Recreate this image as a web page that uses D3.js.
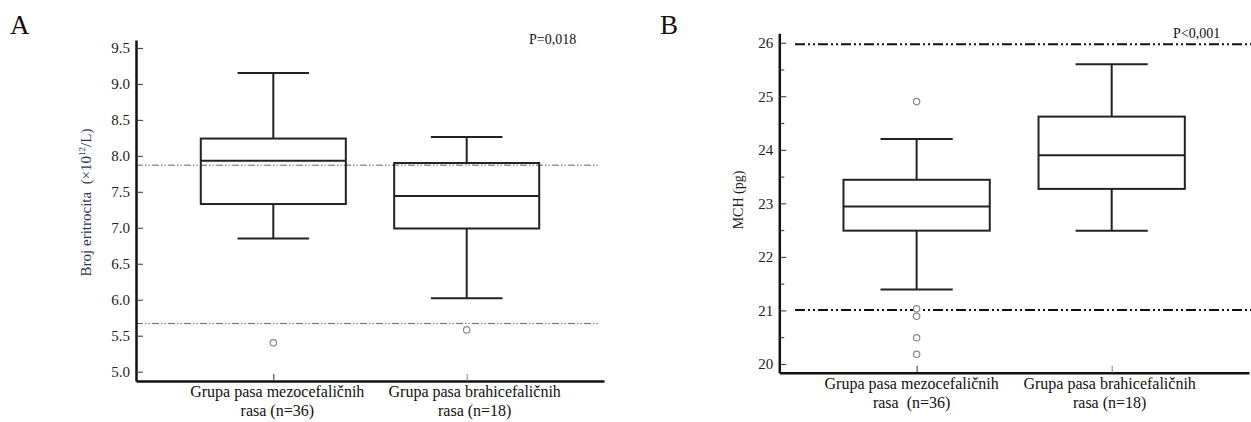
<!DOCTYPE html>
<html>
<head>
<meta charset="utf-8">
<script src="https://cdn.jsdelivr.net/npm/d3@7"></script>
<style>
  body { margin: 0; background: #fff; }
  svg, svg text { font-family: "Liberation Serif", "Times New Roman", serif; }
  text { white-space: pre; }
</style>
</head>
<body>
<script>
// Data

const categoriesA = ['Grupa pasa mezocefaličnih\nrasa (n=36)', 'Grupa pasa brahicefaličnih\nrasa (n=18)'];
const minA = [6.85, 6.02];
const q1A = [7.33, 6.99];
const medianA = [7.93, 7.44];
const q3A = [8.24, 7.9];
const maxA = [9.15, 8.26];
const outliersA = [[5.4], [5.58]];
const refLinesA = [7.87, 5.67];
const ticksA = [5.0, 5.5, 6.0, 6.5, 7.0, 7.5, 8.0, 8.5, 9.0, 9.5];

const categoriesB = ['Grupa pasa mezocefaličnih\nrasa  (n=36)', 'Grupa pasa brahicefaličnih\nrasa (n=18)'];
const minB = [21.39, 22.49];
const q1B = [22.49, 23.27];
const medianB = [22.94, 23.9];
const q3B = [23.44, 24.62];
const maxB = [24.2, 25.6];
const outliersB = [[24.9, 21.03, 20.89, 20.49, 20.18], []];
const refLinesB = [25.97, 21.01];
const ticksB = [20, 21, 22, 23, 24, 25, 26];
const minorTicksB = [20.5, 21.5, 22.5, 23.5, 24.5, 25.5];

// Constants

const width = 1251;
const height = 422;
const serif = '"Liberation Serif", "Times New Roman", serif';

const svg = d3
	.select('body')
	.append('svg')
	.attr('width', width)
	.attr('height', height);

const drawPanel = (p) => {
	const g = svg.append('g');

	const x = d3
		.scalePoint()
		.domain(p.categories)
		.range([p.left, p.right])
		.padding(p.padding);

	const y = d3.scaleLinear().domain(p.domain).range([p.bottom, p.top]);

	const step = x.step();
	const boxW = step * 0.75;
	const capW = step * 0.37;

	// reference lines
	g.append('g')
		.selectAll('line')
		.data(p.refLines)
		.join('line')
		.attr('x1', p.refX1)
		.attr('x2', p.refX2)
		.attr('y1', (d) => y(d))
		.attr('y2', (d) => y(d))
		.attr('stroke', p.refColor)
		.attr('stroke-width', p.refWidth)
		.attr('stroke-dasharray', p.refDash);

	// y axis
	g.append('g')
		.attr('transform', `translate(${p.left},0)`)
		.call(
			d3.axisLeft(y)
				.tickValues(p.ticks)
				.tickFormat(p.format)
				.tickSize(-7)
				.tickSizeOuter(0)
				.tickPadding(6)
		)
		.style('font-family', serif)
		.call((a) => a.select('.domain').attr('stroke-width', 2.5).attr('stroke', '#111'))
		.call((a) => a.selectAll('.tick line').attr('stroke', '#333').attr('stroke-width', 1))
		.call((a) =>
			a.selectAll('.tick text')
				.style('font-family', serif)
				.style('font-size', '15px')
				.attr('fill', '#222')
		);

	if (p.minorTicks) {
		g.append('g')
			.attr('transform', `translate(${p.left},0)`)
			.call(d3.axisLeft(y).tickValues(p.minorTicks).tickFormat('').tickSize(-5).tickSizeOuter(0))
			.call((a) => a.select('.domain').remove())
			.call((a) => a.selectAll('.tick line').attr('stroke', '#333').attr('stroke-width', 1));
	}

	// x axis
	g.append('g')
		.attr('transform', `translate(0,${p.bottom})`)
		.call(d3.axisBottom(x).tickSize(-7).tickSizeOuter(0).tickFormat(''))
		.call((a) => a.select('.domain').attr('stroke-width', 2.5).attr('stroke', '#111'))
		.call((a) => a.selectAll('.tick line').attr('stroke', (d, i) => (i === 0 ? '#333' : '#888')).attr('stroke-width', 1));

	// category labels
	const labels = g
		.append('g')
		.style('font-family', serif)
		.style('font-size', '16px')
		.attr('fill', '#111')
		.attr('text-anchor', 'middle')
		.selectAll('text')
		.data(p.categories)
		.join('text')
		.attr('x', (d, i) => x(d) + p.labelDx[i])
		.attr('y', p.bottom + 16);
	labels
		.selectAll('tspan')
		.data((d) => d.split('\n'))
		.join('tspan')
		.attr('x', function () {
			return this.parentNode.getAttribute('x');
		})
		.attr('dy', (d, j) => (j === 0 ? 0 : 19))
		.text((d) => d);

	// boxes
	const box = g
		.append('g')
		.attr('stroke', '#222')
		.attr('stroke-width', 2)
		.attr('fill', 'none')
		.selectAll('g')
		.data(p.categories)
		.join('g');

	box.append('line')
		.attr('x1', (d) => x(d))
		.attr('x2', (d) => x(d))
		.attr('y1', (d, i) => y(p.max[i]))
		.attr('y2', (d, i) => y(p.q3[i]));
	box.append('line')
		.attr('x1', (d) => x(d))
		.attr('x2', (d) => x(d))
		.attr('y1', (d, i) => y(p.q1[i]))
		.attr('y2', (d, i) => y(p.min[i]));
	box.append('line')
		.attr('x1', (d) => x(d) - capW / 2)
		.attr('x2', (d) => x(d) + capW / 2)
		.attr('y1', (d, i) => y(p.max[i]))
		.attr('y2', (d, i) => y(p.max[i]));
	box.append('line')
		.attr('x1', (d) => x(d) - capW / 2)
		.attr('x2', (d) => x(d) + capW / 2)
		.attr('y1', (d, i) => y(p.min[i]))
		.attr('y2', (d, i) => y(p.min[i]));
	box.append('rect')
		.attr('x', (d) => x(d) - boxW / 2)
		.attr('width', boxW)
		.attr('y', (d, i) => y(p.q3[i]))
		.attr('height', (d, i) => y(p.q1[i]) - y(p.q3[i]));
	box.append('line')
		.attr('x1', (d) => x(d) - boxW / 2)
		.attr('x2', (d) => x(d) + boxW / 2)
		.attr('y1', (d, i) => y(p.median[i]))
		.attr('y2', (d, i) => y(p.median[i]));

	// outliers
	g.append('g')
		.attr('stroke', '#888')
		.attr('stroke-width', 1.2)
		.attr('fill', '#fff')
		.selectAll('circle')
		.data(p.outliers.flatMap((arr, i) => arr.map((v) => ({ c: p.categories[i], v }))))
		.join('circle')
		.attr('cx', (d) => x(d.c))
		.attr('cy', (d) => y(d.v))
		.attr('r', 3.2);

	// y label
	g.append('text')
		.attr('transform', `translate(${p.yLabelX},${(p.top + p.bottom) / 2 + p.yLabelDy}) rotate(-90)`)
		.attr('text-anchor', 'middle')
		.style('font-family', serif)
		.style('font-size', p.yLabelSize + 'px')
		.attr('fill', p.yLabelColor)
		.call(p.yLabel);

	// p value
	g.append('text')
		.attr('x', p.pX)
		.attr('y', p.pY)
		.style('font-family', serif)
		.style('font-size', '14px')
		.attr('fill', '#111')
		.text(p.pText);

	// panel letter
	g.append('text')
		.attr('x', p.letterX)
		.attr('y', 34)
		.style('font-family', serif)
		.style('font-size', '27px')
		.attr('fill', '#111')
		.text(p.letter);
};

drawPanel({
	categories: categoriesA,
	min: minA,
	q1: q1A,
	median: medianA,
	q3: q3A,
	max: maxA,
	outliers: outliersA,
	refLines: refLinesA,
	ticks: ticksA,
	format: d3.format('.1f'),
	domain: [4.87, 9.61],
	left: 136,
	right: 604,
	top: 40,
	bottom: 381,
	padding: 0.71,
	refX1: 136,
	refX2: 600,
	refColor: '#666',
	refWidth: 1,
	refDash: '7,2,1.5,2,1.5,2',
	labelDx: [4, 8],
	yLabelX: 91,
	yLabelDy: -8,
	yLabelSize: 15,
	yLabelColor: '#2c3650',
	yLabel: (t) => {
		t.append('tspan').text('Broj eritrocita  (×10');
		t.append('tspan').style('font-size', '9px').attr('dy', -6).text('12');
		t.append('tspan').attr('dy', 6).text('/L)');
	},
	pText: 'P=0,018',
	pX: 529,
	pY: 44,
	letter: 'A',
	letterX: 10,
});

drawPanel({
	categories: categoriesB,
	min: minB,
	q1: q1B,
	median: medianB,
	q3: q3B,
	max: maxB,
	outliers: outliersB,
	refLines: refLinesB,
	ticks: ticksB,
	minorTicks: minorTicksB,
	format: d3.format('d'),
	domain: [19.837, 26.176],
	left: 779.3,
	right: 1249,
	top: 33.3,
	bottom: 372.7,
	padding: 0.704,
	refX1: 795,
	refX2: 1251,
	refColor: '#111',
	refWidth: 2,
	refDash: '10,3,2,3,2,3',
	labelDx: [-5, -2],
	yLabelX: 743,
	yLabelDy: -3,
	yLabelSize: 14,
	yLabelColor: '#222',
	yLabel: (t) => t.text('MCH (pg)'),
	pText: 'P<0,001',
	pX: 1173,
	pY: 38,
	letter: 'B',
	letterX: 660,
});
</script>
</body>
</html>
